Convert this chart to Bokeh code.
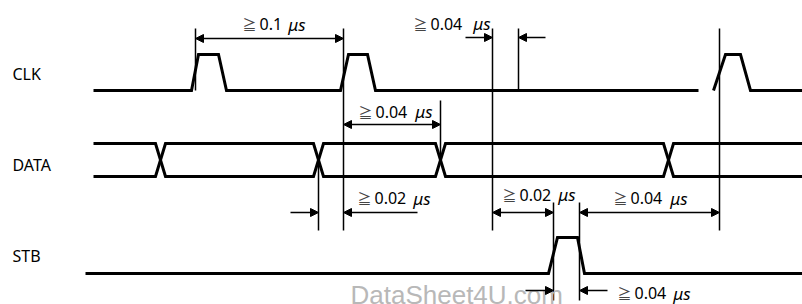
from bokeh.plotting import figure
from bokeh.models import Range1d, Arrow, NormalHead, ColumnDataSource
from bokeh.core.properties import value
from bokeh.embed import file_html
from bokeh.resources import INLINE

# ---------------- data (time axis in diagram units) ----------------
signal_names = ["CLK", "DATA", "STB"]

# CLK waveform: edge times and logic levels (0 = low, 1 = high)
clk_t = [93, 191, 198, 218, 226, 340, 348, 367, 375, 698]
clk_l = [0, 0, 1, 1, 0, 0, 1, 1, 0, 0]
clk2_t = [713, 725, 740, 750, 802]
clk2_l = [0, 1, 1, 0, 0]

# DATA bus: start, end, crossing centres, crossing half width
data_start = 93
data_end = 802
data_cross = [160, 318, 440, 668]
data_cross_hw = 5

# STB waveform
stb_t = [85, 548, 557, 577, 584, 802]
stb_l = [0, 0, 1, 1, 0, 0]

# lane levels (low, high)
clk_lane = (90, 54)
data_lane = (176, 143)
stb_lane = (273, 237)

# timing reference lines: x, top, bottom
ref_x = [195, 343, 492, 518, 719, 440, 318, 553, 579]
ref_top = [28, 28, 28, 28, 28, 100, 160, 202, 202]
ref_bot = [90, 230, 230, 90, 230, 160, 230, 300, 300]

# double-headed dimension arrows
dbl_x0 = [195, 343, 492, 579]
dbl_x1 = [343, 440, 553, 719]
dbl_y = [38, 124, 212, 212]

# single-headed arrows pointing at a reference line (from -> to)
sgl_from = [465, 545, 290, 417, 525, 607]
sgl_to = [492, 518, 318, 343, 553, 579]
sgl_y = [37, 37, 212, 212, 290, 290]

# dimension labels: "≧", value, unit
ann_value = ["0.1", "0.04", "0.04", "0.02", "0.02", "0.04", "0.04"]
ann_unit = ["μs"] * 7
ann_x0 = [242, 413, 358, 357, 502, 613, 617]
ann_x1 = [305, 490, 432, 430, 575, 687, 690]
ann_mid = [23.5, 23, 111, 197.5, 194, 197.5, 292.5]

# signal name labels
name_x = [12, 12, 12]
name_mid = [73.5, 164.5, 255.5]

watermark = "DataSheet4U.com"

# ---------------- figure ----------------
p = figure(width=802, height=304, output_backend="svg", toolbar_location=None,
           x_range=Range1d(0, 802), y_range=Range1d(304, 0),
           x_axis_type=None, y_axis_type=None, min_border=0)
p.grid.visible = False
p.outline_line_color = None
p.background_fill_color = "white"
p.border_fill_color = "white"


def lane_y(levels, lane):
    return [lane[1] if lv else lane[0] for lv in levels]


sig_w = 3
p.line(clk_t, lane_y(clk_l, clk_lane), line_width=sig_w, color="black", line_join="miter")
p.line(clk2_t, lane_y(clk2_l, clk_lane), line_width=sig_w, color="black", line_join="miter")
p.line(stb_t, lane_y(stb_l, stb_lane), line_width=sig_w, color="black", line_join="miter")

# DATA bus lines
for start_level in (0, 1):
    xs = [data_start]
    lv = start_level
    ys = [data_lane[lv]]
    for c in data_cross:
        xs.append(c - data_cross_hw)
        ys.append(data_lane[lv])
        lv = 1 - lv
        xs.append(c + data_cross_hw)
        ys.append(data_lane[lv])
    xs.append(data_end)
    ys.append(data_lane[lv])
    p.line(xs, ys, line_width=sig_w, color="black", line_join="miter")

# reference lines
p.segment(x0=ref_x, y0=ref_top, x1=ref_x, y1=ref_bot, line_width=1.5, color="black")

# watermark
p.text(x=[350], y=[294], text=[watermark], text_font=value("Liberation Sans"),
       text_font_size="26px", text_color="#b8b8b8", text_baseline="middle")

# arrows
dbl_src = ColumnDataSource(dict(x0=dbl_x0, x1=dbl_x1, y=dbl_y))
p.add_layout(Arrow(x_start="x0", y_start="y", x_end="x1", y_end="y", source=dbl_src,
                   line_width=1.5, line_color="black",
                   start=NormalHead(size=8, fill_color="black", line_color="black", line_width=1),
                   end=NormalHead(size=8, fill_color="black", line_color="black", line_width=1)))
sgl_src = ColumnDataSource(dict(x0=sgl_from, x1=sgl_to, y=sgl_y))
p.add_layout(Arrow(x_start="x0", y_start="y", x_end="x1", y_end="y", source=sgl_src,
                   line_width=1.5, line_color="black",
                   end=NormalHead(size=8, fill_color="black", line_color="black", line_width=1)))

# labels
font = value("Noto Sans")
p.text(x=ann_x0, y=ann_mid, text=["≧"] * len(ann_x0), text_font=value("Noto Sans CJK JP"),
       text_font_size="14px", text_color="#444444", text_baseline="middle",
       text_align="left")
p.text(x=[x + 17 for x in ann_x0], y=ann_mid, text=ann_value, text_font=font,
       text_font_size="16px", text_color="black", text_baseline="middle",
       text_align="left")
p.text(x=ann_x1, y=ann_mid, text=ann_unit, text_font=font, text_font_size="17px",
       text_font_style="italic", text_color="black", text_baseline="middle",
       text_align="right")
p.text(x=name_x, y=name_mid, text=signal_names, text_font=font, text_font_size="16px",
       text_color="black", text_baseline="middle", text_align="left")

open("out.html", "w").write(file_html(p, INLINE))
